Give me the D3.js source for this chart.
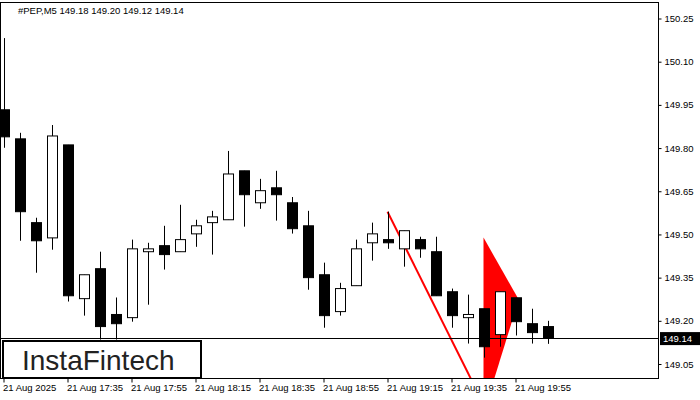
<!DOCTYPE html>
<html>
<head>
<meta charset="utf-8">
<script src="https://cdn.jsdelivr.net/npm/d3@7"></script>
<style>
  body { margin: 0; background: #fff; }
  text { font-family: "Liberation Sans", Arial, sans-serif; }
</style>
</head>
<body>
<div id="chart"></div>
<script>
// candle data (M5 bars)
const opens  = [149.933,149.832,149.541,149.488,149.811,149.277,149.381,149.222,149.211,149.440,149.461,149.440,149.502,149.541,149.551,149.721,149.610,149.662,149.610,149.530,149.360,149.232,149.322,149.471,149.482,149.450,149.482,149.440,149.301,149.211,149.242,149.152,149.280,149.190,149.18];
const highs  = [150.182,149.853,149.558,149.880,149.811,149.360,149.440,149.281,149.482,149.471,149.530,149.603,149.551,149.582,149.790,149.721,149.693,149.721,149.630,149.582,149.402,149.332,149.482,149.541,149.579,149.513,149.492,149.492,149.312,149.291,149.242,149.301,149.280,149.242,149.20];
const lows   = [149.801,149.478,149.367,149.447,149.267,149.218,149.135,149.135,149.197,149.256,149.378,149.440,149.457,149.430,149.551,149.527,149.589,149.548,149.503,149.308,149.176,149.218,149.322,149.409,149.450,149.388,149.419,149.287,149.176,149.121,149.072,149.110,149.149,149.121,149.12];
const closes = [149.839,149.579,149.478,149.842,149.287,149.360,149.180,149.190,149.450,149.450,149.430,149.482,149.530,149.561,149.710,149.638,149.652,149.638,149.520,149.350,149.218,149.312,149.450,149.502,149.471,149.513,149.450,149.287,149.218,149.222,149.110,149.301,149.197,149.159,149.14];
const priceTicks = [150.25,150.10,149.95,149.80,149.65,149.50,149.35,149.20,149.05];
const timeTickIdx = [0,4,8,12,16,20,24,28,32];
const timeLabels = ["21 Aug 2025","21 Aug 17:35","21 Aug 17:55","21 Aug 18:15","21 Aug 18:35","21 Aug 18:55","21 Aug 19:15","21 Aug 19:35","21 Aug 19:55"];
const lastPrice = 149.14;
// pattern drawing: flagpole line and pennant triangle (bar index, price)
const poleLine = [[24,149.579],[29.2,149.0]];
const pennant = [[30,149.489],[32.2,149.274],[30.4,148.95],[30,148.95]];

const W = 700, H = 400;
const plot = { left: 1, right: 658, top: 3, bottom: 378 };
const fs = 9.5;

const svg = d3.select("#chart").append("svg").attr("width", W).attr("height", H);

const y = d3.scaleLinear().domain([149.05, 150.25]).range([364, 18.5]);
const x = d3.scaleLinear().domain([0, 1]).range([3.5, 19.5]);

svg.append("clipPath").attr("id", "clip").append("rect")
  .attr("x", plot.left).attr("y", plot.top)
  .attr("width", plot.right - plot.left).attr("height", plot.bottom - plot.top);

const g = svg.append("g").attr("clip-path", "url(#clip)");

// pattern (behind candles)
g.append("path")
  .attr("d", d3.line().x(d => x(d[0])).y(d => y(d[1]))(poleLine))
  .attr("stroke", "#ff0000").attr("stroke-width", 2).attr("fill", "none");
g.append("path")
  .attr("d", d3.line().x(d => x(d[0])).y(d => y(d[1]))(pennant) + "Z")
  .attr("fill", "#ff0000");

// candles
const idx = d3.range(opens.length);
g.selectAll("line.wick").data(idx).join("line")
  .attr("x1", i => Math.round(x(i)) + 0.5).attr("x2", i => Math.round(x(i)) + 0.5)
  .attr("y1", i => y(highs[i])).attr("y2", i => y(lows[i]))
  .attr("stroke", "#000");
g.selectAll("rect.body").data(idx).join("rect")
  .attr("x", i => Math.round(x(i)) - 4.5)
  .attr("y", i => y(Math.max(opens[i], closes[i])))
  .attr("width", 10)
  .attr("height", i => Math.max(1, Math.abs(y(opens[i]) - y(closes[i]))))
  .attr("fill", i => closes[i] >= opens[i] ? "#fff" : "#000")
  .attr("stroke", "#000");

// last price line
g.append("line").attr("x1", plot.left).attr("x2", plot.right)
  .attr("y1", Math.round(y(lastPrice)) + 0.5).attr("y2", Math.round(y(lastPrice)) + 0.5)
  .attr("stroke", "#000");

// frame
svg.append("rect").attr("x", plot.left - 0.5).attr("y", plot.top - 0.5)
  .attr("width", plot.right - plot.left + 1).attr("height", plot.bottom - plot.top + 1)
  .attr("fill", "none").attr("stroke", "#000");

// price axis
const ya = svg.append("g").attr("transform", `translate(${plot.right + 0.5},0)`)
  .call(d3.axisRight(y).tickValues(priceTicks).tickFormat(d3.format(".2f")).tickSize(3).tickPadding(3));
ya.select(".domain").remove();
ya.selectAll("text").attr("font-size", fs).attr("font-family", "Liberation Sans, sans-serif").attr("fill", "#000");
// last price tag
svg.append("rect").attr("x", plot.right + 2).attr("y", y(lastPrice) - 6).attr("width", 40).attr("height", 13).attr("fill", "#000");
svg.append("text").attr("x", plot.right + 5).attr("y", y(lastPrice) + 4)
  .attr("font-size", fs).attr("fill", "#fff").text(d3.format(".2f")(lastPrice));

// time axis
const xa = svg.append("g").attr("transform", `translate(0,${plot.bottom + 0.5})`)
  .call(d3.axisBottom(x).tickValues(timeTickIdx).tickFormat((d, i) => timeLabels[i]).tickSize(4).tickPadding(2));
xa.select(".domain").remove();
xa.selectAll("text").attr("font-size", fs).attr("text-anchor", "start").attr("dx", -1)
  .attr("font-family", "Liberation Sans, sans-serif").attr("fill", "#000");

// header
svg.append("text").attr("x", 18).attr("y", 14).attr("font-size", fs)
  .text("#PEP,M5  149.18 149.20 149.12 149.14");

// logo
svg.append("rect").attr("x", 3).attr("y", 341).attr("width", 198).attr("height", 37)
  .attr("fill", "#fff").attr("stroke", "#000").attr("stroke-width", 2);
svg.append("text").attr("x", 22).attr("y", 370).attr("font-size", 28).attr("font-weight", 500)
  .attr("font-family", "Inter, Roboto, sans-serif").attr("fill", "#222").text("InstaFintech");
</script>
</body>
</html>
